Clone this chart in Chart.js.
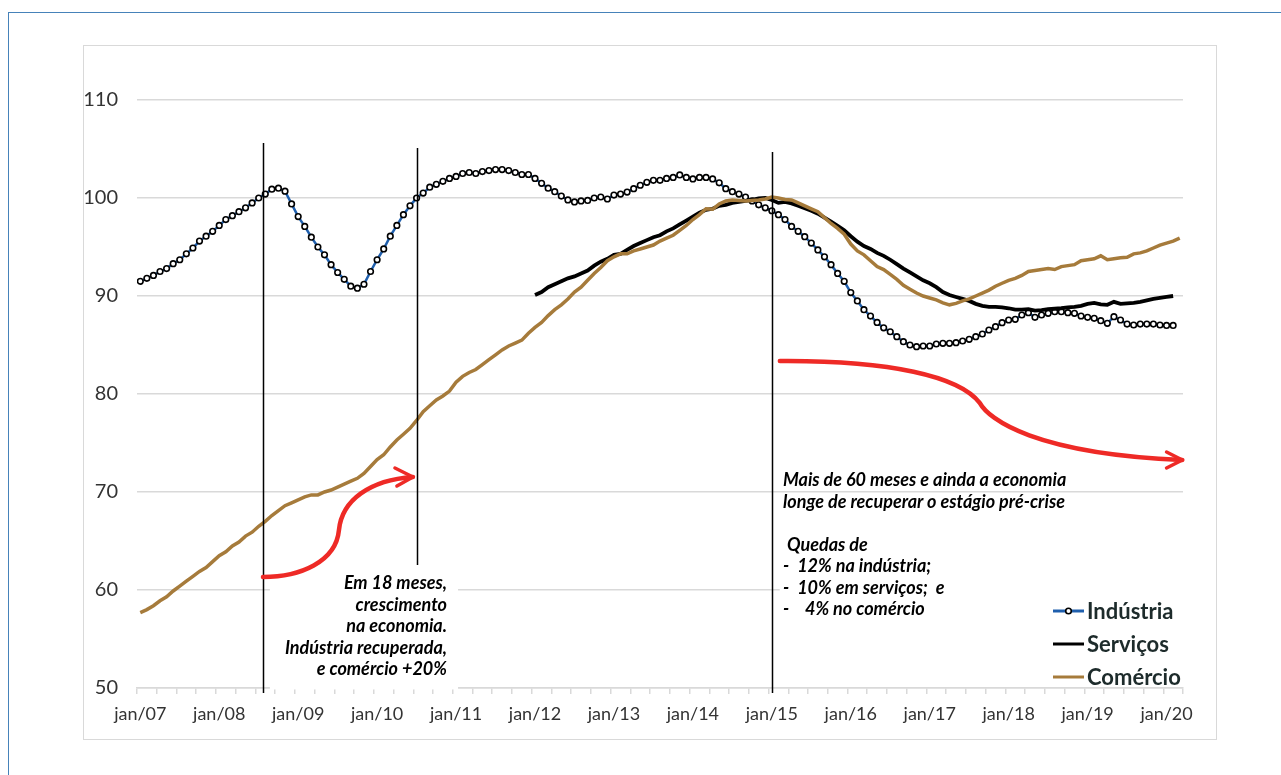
<!DOCTYPE html>
<html lang="pt">
<head>
<meta charset="utf-8">
<title>Indústria, Serviços e Comércio</title>
<script src="https://cdn.jsdelivr.net/npm/chart.js@4/dist/chart.umd.min.js"></script>
<style>
    html, body { margin: 0; padding: 0; background: #fff; }
    body { width: 1281px; height: 775px; position: relative; overflow: hidden; }
    #frame { position: absolute; left: 8px; top: 12px; width: 1400px; height: 900px;
             border-top: 1.5px solid #4682b9; border-left: 1.5px solid #4682b9; }
    #box { position: absolute; left: 83px; top: 45px; width: 1134px; height: 695px;
           box-sizing: border-box; border: 1.5px solid #d9d9d9; }
    #chart { position: absolute; left: 0; top: 0; }
    .note { position: absolute; font: italic bold 18px Lato, sans-serif; line-height: 21.5px;
            color: #000; white-space: pre; }
    #note1 { left: 187px; width: 260px; top: 572px; text-align: right; }
    #note2 { left: 783px; top: 469px; }
</style>
</head>
<body>
<div id="frame"></div>
<div id="box"></div>
<canvas id="chart" width="1281" height="775"></canvas>
<div class="note" id="note1">Em 18 meses,
crescimento
na economia.
Indústria recuperada,
e comércio +20%</div>
<div class="note" id="note2">Mais de 60 meses e ainda a economia
longe de recuperar o estágio pré-crise

 Quedas de
-  12% na indústria;
-  10% em serviços;  e
-    4% no comércio</div>
<script>
// month index 0 = jan/07
const yearLabels = ['jan/07', 'jan/08', 'jan/09', 'jan/10', 'jan/11', 'jan/12', 'jan/13',
    'jan/14', 'jan/15', 'jan/16', 'jan/17', 'jan/18', 'jan/19', 'jan/20'];

const industria = [
    91.5, 91.8, 92.1, 92.5, 92.8, 93.3, 93.7, 94.3, 94.9, 95.6, 96.1, 96.6,
    97.2, 97.8, 98.2, 98.6, 99.0, 99.5, 100.0, 100.4, 100.9, 101.0, 100.7, 99.4,
    98.1, 97.1, 96.0, 95.0, 94.2, 93.2, 92.4, 91.7, 91.0, 90.8, 91.2, 92.5,
    93.7, 94.8, 96.1, 97.2, 98.3, 99.2, 100.0, 100.5, 101.1, 101.4, 101.7, 102.0,
    102.2, 102.5, 102.6, 102.5, 102.7, 102.8, 102.9, 102.9, 102.8, 102.6, 102.4, 102.4,
    102.0, 101.5, 101.0, 100.65, 100.2, 99.8, 99.6, 99.7, 99.75, 100.0, 100.1, 99.9,
    100.3, 100.4, 100.6, 100.95, 101.3, 101.6, 101.8, 101.8, 102.0, 102.1, 102.35, 102.1,
    101.95, 102.1, 102.1, 101.95, 101.55, 100.95, 100.65, 100.4, 100.1, 99.7, 99.3, 99.0,
    98.7, 98.3, 97.8, 97.1, 96.6, 96.05, 95.4, 94.7, 94.0, 93.2, 92.3, 91.5,
    90.35, 89.5, 88.6, 87.95, 87.3, 86.75, 86.35, 85.85, 85.34, 85.0, 84.83, 84.9,
    84.9, 85.1, 85.17, 85.17, 85.24, 85.41, 85.58, 85.85, 86.12, 86.53, 86.87, 87.28,
    87.55, 87.62, 88.06, 88.3, 87.82, 88.06, 88.23, 88.4, 88.4, 88.3, 88.23, 87.96,
    87.82, 87.72, 87.48, 87.21, 87.89, 87.55, 87.14, 87.04, 87.14, 87.14, 87.14, 87.04,
    87.0, 87.0
];

// servicos starts at jan/12
const servicosStart = 60;
const servicos = [
    90.1, 90.4, 90.9, 91.2, 91.5, 91.8, 92.0, 92.3, 92.6, 93.1, 93.5, 93.8,
    94.2, 94.3, 94.7, 95.1, 95.4, 95.7, 96.0, 96.2, 96.6, 96.9, 97.3, 97.7,
    98.1, 98.5, 98.8, 98.9, 99.2, 99.3, 99.5, 99.6, 99.7, 99.8, 99.95, 100.0,
    99.8, 99.5, 99.6, 99.45, 99.2, 98.95, 98.7, 98.4, 98.0, 97.6, 97.15, 96.7,
    96.1, 95.55, 95.1, 94.8, 94.4, 94.1, 93.7, 93.25, 92.8, 92.4, 92.0, 91.6,
    91.3, 90.9, 90.4, 90.1, 89.9, 89.7, 89.5, 89.2, 89.0, 88.9, 88.9, 88.85,
    88.75, 88.6, 88.6, 88.65, 88.5, 88.55, 88.65, 88.7, 88.75, 88.85, 88.9, 89.0,
    89.2, 89.3, 89.15, 89.1, 89.4, 89.2, 89.25, 89.3, 89.4, 89.55, 89.7, 89.8,
    89.9, 90.0
];

const comercio = [
    57.7, 58.0, 58.4, 58.9, 59.3, 59.9, 60.4, 60.9, 61.4, 61.9, 62.3, 62.9,
    63.5, 63.9, 64.5, 64.9, 65.5, 65.9, 66.5, 67.0, 67.6, 68.1, 68.6, 68.9,
    69.2, 69.5, 69.7, 69.7, 70.0, 70.2, 70.5, 70.8, 71.1, 71.4, 71.9, 72.6,
    73.3, 73.8, 74.6, 75.3, 75.9, 76.5, 77.3, 78.2, 78.8, 79.4, 79.8, 80.3,
    81.2, 81.8, 82.2, 82.5, 83.0, 83.5, 84.0, 84.5, 84.9, 85.2, 85.5, 86.2,
    86.8, 87.3, 88.0, 88.6, 89.1, 89.7, 90.4, 90.9, 91.6, 92.3, 92.9, 93.6,
    94.0, 94.3, 94.3, 94.6, 94.8, 95.0, 95.2, 95.6, 95.9, 96.2, 96.7, 97.2,
    97.8, 98.3, 98.9, 98.85, 99.4, 99.7, 99.8, 99.75, 99.7, 99.75, 99.8, 99.9,
    100.1, 100.0, 99.85, 99.8, 99.5, 99.2, 98.9, 98.6, 98.0, 97.4, 96.9, 96.3,
    95.3, 94.6, 94.2, 93.6, 93.0, 92.7, 92.2, 91.7, 91.1, 90.7, 90.3, 90.0,
    89.8, 89.6, 89.3, 89.1, 89.25, 89.5, 89.7, 90.0, 90.3, 90.6, 91.0, 91.3,
    91.6, 91.8, 92.1, 92.5, 92.6, 92.7, 92.8, 92.7, 93.0, 93.1, 93.2, 93.6,
    93.7, 93.8, 94.1, 93.7, 93.8, 93.9, 93.95, 94.3, 94.4, 94.6, 94.9, 95.2,
    95.4, 95.6, 95.9
];

//..annotation marks, in (month index, value) units
const crisisLines = [
    { x: 18.6, top: 105.6, bottom: 49.5 },
    { x: 42.05, top: 105.1, bottom: 62.55 },
    { x: 96.0, top: 104.7, bottom: 49.5 }
];
const whiteBoxes = [
    { x0: 19.7, x1: 48.3, y0: 49.85, y1: 62.55 },
    { x0: 97.2, x1: 158.5, y0: 56.4, y1: 66.3 }
];
const arrows = [
    { path: [[18.65, 61.33], [24.27, 61.33], [29.74, 62.86], [30.2, 66.12], [30.65, 69.18], [34.91, 71.22], [41.45, 71.53]],
      head: [[38.71, 72.45], [39.01, 70.61]] },
    { path: [[97.22, 83.37], [114.0, 83.45], [124.5, 81.8], [127.6, 79.1], [129.0, 77.4], [136.0, 73.9], [158.4, 73.27]],
      head: [[156.0, 74.08], [156.0, 72.45]] }
];

const COLOR_IND = '#1f5fad';
const COLOR_SERV = '#000000';
const COLOR_COM = '#a67b3b';
const COLOR_RED = '#ee2a26';

function seriesPoints(values, start) {
    return values.map((v, i) => ({ x: start + i, y: v }));
}

const notesPlugin = {
    id: 'notes',
    beforeDatasetsDraw(chart) {
        const { ctx, scales: { x, y } } = chart;
        ctx.save();
        ctx.fillStyle = '#ffffff';
        whiteBoxes.forEach(b => {
            const left = x.getPixelForValue(b.x0), right = x.getPixelForValue(b.x1);
            const top = y.getPixelForValue(b.y1), bottom = y.getPixelForValue(b.y0);
            ctx.fillRect(left, top, right - left, bottom - top);
        });
        ctx.restore();
    },
    afterDatasetsDraw(chart) {
        const { ctx, scales: { x, y } } = chart;
        const px = p => [x.getPixelForValue(p[0]), y.getPixelForValue(p[1])];
        ctx.save();

        //..vertical markers
        ctx.strokeStyle = '#000';
        ctx.lineWidth = 1.5;
        crisisLines.forEach(l => {
            const lx = Math.round(x.getPixelForValue(l.x)) + 0.5;
            ctx.beginPath();
            ctx.moveTo(lx, y.getPixelForValue(l.top));
            ctx.lineTo(lx, y.getPixelForValue(l.bottom));
            ctx.stroke();
        });

        //..red arrows
        ctx.strokeStyle = COLOR_RED;
        ctx.lineCap = 'round';
        ctx.lineJoin = 'round';
        arrows.forEach(a => {
            const p = a.path.map(px);
            ctx.lineWidth = 4.5;
            ctx.beginPath();
            ctx.moveTo(p[0][0], p[0][1]);
            ctx.bezierCurveTo(p[1][0], p[1][1], p[2][0], p[2][1], p[3][0], p[3][1]);
            ctx.bezierCurveTo(p[4][0], p[4][1], p[5][0], p[5][1], p[6][0], p[6][1]);
            ctx.stroke();
            const tip = p[6];
            ctx.lineWidth = 3.5;
            a.head.map(px).forEach(h => {
                ctx.beginPath();
                ctx.moveTo(h[0], h[1]);
                ctx.lineTo(tip[0], tip[1]);
                ctx.stroke();
            });
        });
        ctx.restore();
    },
    afterDraw(chart) {
        //..legend at the bottom right of the plot
        const { ctx, chartArea } = chart;
        const lx = chartArea.right - 130;
        ctx.save();
        chart.data.datasets.forEach((ds, i) => {
            const ly = chartArea.bottom - 77 + i * 33;
            ctx.strokeStyle = ds.borderColor;
            ctx.lineWidth = 3;
            ctx.beginPath();
            ctx.moveTo(lx, ly);
            ctx.lineTo(lx + 31, ly);
            ctx.stroke();
            if (ds.pointRadius > 0) {
                ctx.beginPath();
                ctx.arc(lx + 15.5, ly, ds.pointRadius, 0, Math.PI * 2);
                ctx.fillStyle = ds.pointBackgroundColor;
                ctx.fill();
                ctx.lineWidth = ds.pointBorderWidth;
                ctx.strokeStyle = ds.pointBorderColor;
                ctx.stroke();
            }
            ctx.fillStyle = '#1d2b2b';
            ctx.font = 'bold 22px Lato, sans-serif';
            ctx.textBaseline = 'middle';
            ctx.fillText(ds.label, lx + 34, ly + 1);
        });
        ctx.restore();
    }
};

Chart.defaults.font.family = 'Lato, sans-serif';

new Chart(document.getElementById('chart'), {
    type: 'line',
    data: {
        datasets: [
            {
                label: 'Indústria',
                data: seriesPoints(industria, 0),
                borderColor: COLOR_IND,
                borderWidth: 2.5,
                pointRadius: 2.8,
                pointBackgroundColor: '#ffffff',
                pointBorderColor: '#000000',
                pointBorderWidth: 1.6,
                order: 2
            },
            {
                label: 'Serviços',
                data: seriesPoints(servicos, servicosStart),
                borderColor: COLOR_SERV,
                borderWidth: 3.8,
                pointRadius: 0,
                order: 1
            },
            {
                label: 'Comércio',
                data: seriesPoints(comercio, 0),
                borderColor: COLOR_COM,
                borderWidth: 3.5,
                pointRadius: 0,
                order: 0
            }
        ]
    },
    options: {
        responsive: false,
        animation: false,
        layout: { padding: { left: 0, top: 100, right: 98, bottom: 37 } },
        plugins: {
            legend: { display: false },
            tooltip: { enabled: false }
        },
        scales: {
            xt: {
                type: 'linear',
                position: 'bottom',
                weight: 0,
                min: -0.5,
                max: 158.5,
                afterBuildTicks: s => {
                    const t = [];
                    for (let v = -0.5; v <= 158.5; v += 3) t.push({ value: v });
                    s.ticks = t;
                },
                afterFit: s => { s.height = 0; s.paddingLeft = 0; s.paddingRight = 0; },
                grid: { drawOnChartArea: false, color: '#d9d9d9', lineWidth: 1.5, tickLength: 6 },
                border: { color: '#d9d9d9', width: 1.5 },
                ticks: { display: false }
            },
            x: {
                type: 'linear',
                position: 'bottom',
                weight: 1,
                min: -0.5,
                max: 158.5,
                afterBuildTicks: s => { s.ticks = yearLabels.map((_, k) => ({ value: k * 12 })); },
                afterFit: s => { s.height = 50; s.paddingLeft = 0; s.paddingRight = 0; },
                grid: { display: false, drawTicks: false },
                border: { display: false },
                ticks: {
                    autoSkip: false,
                    maxRotation: 0,
                    padding: 15,
                    color: '#333333',
                    font: { size: 18 },
                    callback: (v, i) => yearLabels[i]
                }
            },
            y: {
                min: 50,
                max: 110,
                afterFit: s => { s.width = 137; s.paddingTop = 0; s.paddingBottom = 0; },
                grid: { color: '#d9d9d9', lineWidth: 1.5, drawTicks: false },
                border: { display: false },
                ticks: { stepSize: 10, padding: 19, color: '#333333', font: { size: 20 } }
            }
        }
    },
    plugins: [notesPlugin]
});
</script>
</body>
</html>
